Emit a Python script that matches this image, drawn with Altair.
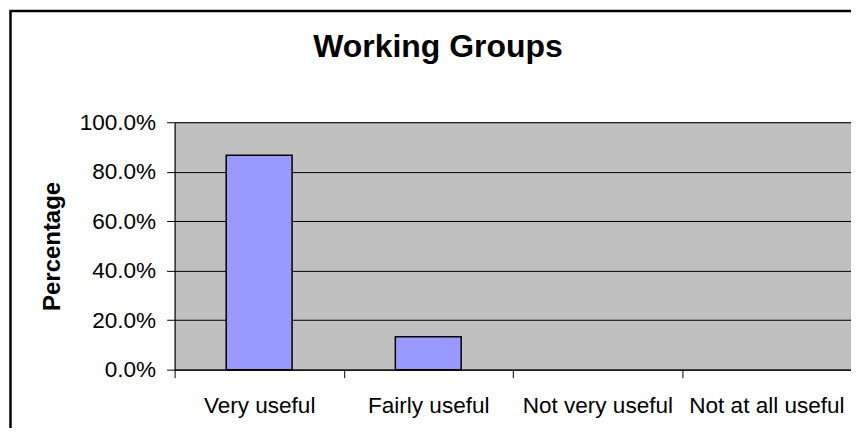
import altair as alt
import pandas as pd

categories = ["Very useful", "Fairly useful", "Not very useful", "Not at all useful"]
values = [0.867, 0.133, 0.0, 0.0]
title_text = "Working Groups"
y_title = "Percentage"
y_ticks = [0.0, 0.2, 0.4, 0.6, 0.8, 1.0]

FONT = "Liberation Sans"

df = pd.DataFrame({"category": categories, "value": values})

border = alt.Chart(pd.DataFrame({"k": [0]})).mark_rect(
    fillOpacity=0, stroke="black", strokeWidth=2.5
).encode(
    x=alt.value(-164.5), x2=alt.value(1200),
    y=alt.value(-111.5), y2=alt.value(1200),
)

bars = alt.Chart(df).transform_filter(
    alt.datum.value > 0
).mark_bar(
    size=66, color="#9999FF", stroke="black", strokeWidth=1.5
).encode(
    x=alt.X(
        "category:N", sort=categories,
        scale=alt.Scale(domain=categories, paddingInner=0, paddingOuter=0),
        axis=alt.Axis(
            title=None, labelAngle=0, tickBand="extent", tickSize=8,
            labelPadding=35, labelBaseline="alphabetic", labelFontSize=22.6,
            labelFont=FONT, labelColor="black", domainColor="black",
            tickColor="black", grid=False, labelOverlap=False,
        ),
    ),
    y=alt.Y(
        "value:Q",
        scale=alt.Scale(domain=[0, 1], nice=False),
        axis=alt.Axis(
            values=y_ticks, format=".1%", title=y_title,
            titleFont=FONT, titleFontSize=24, titleFontWeight="bold",
            titleColor="black", titleAngle=270, titleBaseline="alphabetic",
            titleAlign="center", titleX=-115, titleY=124,
            labelFont=FONT, labelFontSize=22.6, labelColor="black",
            labelPadding=11, tickSize=8, tickColor="black",
            domainColor="black", grid=True, gridColor="black",
            gridWidth=1, gridOpacity=1,
        ),
    ),
)

title = alt.Chart(pd.DataFrame({"t": [title_text]})).mark_text(
    font=FONT, fontSize=32, fontWeight="bold", align="center",
    baseline="alphabetic", color="black"
).encode(
    x=alt.value(264), y=alt.value(-65), text="t:N"
)

chart = alt.layer(border, bars, title).properties(
    width=678, height=248,
    autosize=alt.AutoSizeParams(type="none"),
    padding={"left": 167, "top": 114, "right": 0, "bottom": 58},
    background="white",
).configure_view(
    fill="#C0C0C0", stroke="#808080", strokeWidth=1
)

chart.save("out.html", embed_options={"renderer": "svg", "actions": False})
